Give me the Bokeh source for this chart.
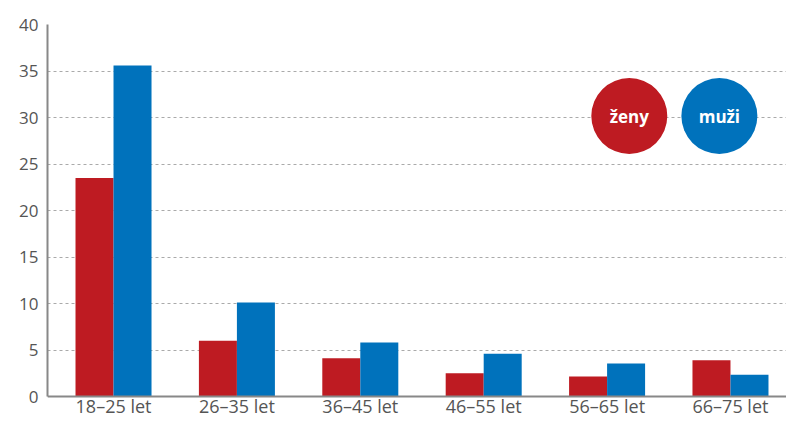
from bokeh.plotting import figure
from bokeh.embed import file_html
from bokeh.resources import INLINE
from bokeh.models import Range1d, FixedTicker, ColumnDataSource, Span
from bokeh.core.properties import value

categories = ["18–25 let", "26–35 let", "36–45 let", "46–55 let", "56–65 let", "66–75 let"]
zeny = [23.5, 6.0, 4.1, 2.5, 2.15, 3.9]
muzi = [35.6, 10.1, 5.8, 4.6, 3.55, 2.35]
y_ticks = [0, 5, 10, 15, 20, 25, 30, 35, 40]
legend_labels = ["ženy", "muži"]

RED = "#be1b22"
BLUE = "#0072bc"
FONT = "Open Sans"
AXIS = "#888888"

# pixel scale: frame spans 24..417 px vertically, value 0 sits 21 px above the bottom
PX_PER_UNIT = 9.3
Y_LOW = -21 / PX_PER_UNIT
LABEL_Y = -9 / PX_PER_UNIT

xs = list(range(len(categories)))
bw = 0.308
src = ColumnDataSource(dict(
    xr=[x - bw / 2 for x in xs],
    xb=[x + bw / 2 for x in xs],
    zeny=zeny, muzi=muzi,
))
cat_src = ColumnDataSource(dict(x=xs, y=[LABEL_Y] * len(xs), label=categories))

p = figure(width=786, height=417, output_backend="svg", toolbar_location=None,
           x_range=Range1d(-0.535, 5.454), y_range=Range1d(Y_LOW, 40),
           min_border_left=47, min_border_right=0, min_border_top=24, min_border_bottom=0)
p.outline_line_color = None
p.background_fill_color = "white"
p.border_fill_color = "white"
p.xaxis.visible = False

p.vbar(x="xr", top="zeny", width=bw, source=src, color=RED, line_color=None)
p.vbar(x="xb", top="muzi", width=bw, source=src, color=BLUE, line_color=None)

# baseline (x axis line)
p.add_layout(Span(location=0, dimension="width", line_color=AXIS, line_width=2))

# category labels
p.text(x="x", y="y", text="label", source=cat_src,
       text_font=value(FONT), text_font_size="18px", text_color="#555555",
       text_align="center", text_baseline="middle")

# legend circles
p.scatter(x=[4.18, 4.91], y=[30.16, 30.16], size=76, color=[RED, BLUE], line_color=None)
p.text(x=[4.18, 4.91], y=[30.16, 30.16], text=legend_labels, text_color="white",
       text_font=value(FONT), text_font_style="bold", text_font_size="17px",
       text_align="center", text_baseline="middle")

ax = p.yaxis[0]
ax.ticker = FixedTicker(ticks=y_ticks)
ax.bounds = (0, 40)
ax.major_tick_line_color = None
ax.minor_tick_line_color = None
ax.major_tick_out = 0
ax.major_tick_in = 0
ax.minor_tick_out = 0
ax.minor_tick_in = 0
ax.axis_line_color = AXIS
ax.axis_line_width = 2
ax.major_label_text_font = FONT
ax.major_label_text_color = "#555555"
ax.major_label_text_font_size = "17px"
ax.major_label_standoff = 9

p.xgrid.grid_line_color = None
p.ygrid.grid_line_color = "#aaaaaa"
p.ygrid.grid_line_dash = "3 3"
p.ygrid.grid_line_width = 1

open("out.html", "w").write(file_html(p, INLINE))
